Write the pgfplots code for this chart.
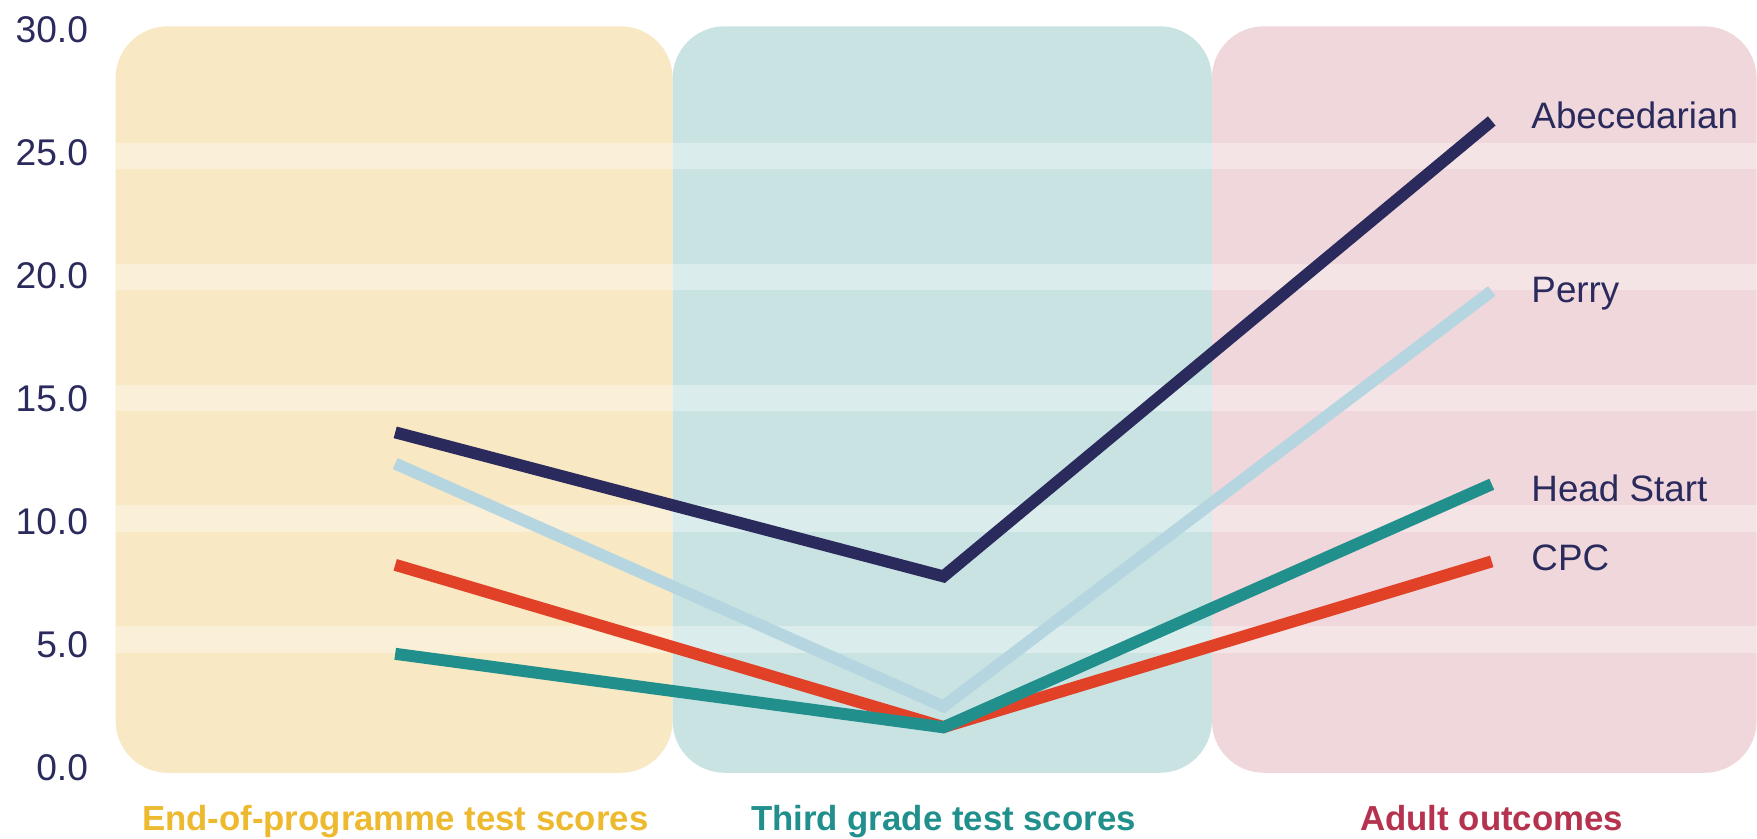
\documentclass[border=0pt]{standalone}
\usepackage{fontspec}
\setmainfont{Liberation Sans}
\usepackage{pgfplots}
\pgfplotsset{compat=1.18}
\definecolor{navy}{HTML}{2B2A5C}
\definecolor{perry}{HTML}{B5D6E0}
\definecolor{headstart}{HTML}{21908D}
\definecolor{cpc}{HTML}{E04127}
\definecolor{bgyellow}{HTML}{F8E8C4}
\definecolor{bgteal}{HTML}{C9E3E2}
\definecolor{bgpink}{HTML}{EFD7DB}
\definecolor{labgold}{HTML}{EDB92E}
\definecolor{labteal}{HTML}{21908D}
\definecolor{labred}{HTML}{B5334E}
\begin{document}
\begin{tikzpicture}
\begin{axis}[
  scale only axis, width=439.25pt, height=209.5pt,
  xmin=-0.7201, xmax=2.4831, ymin=-2.875, ymax=31.204,
  axis line style={draw=none}, major tick length=0pt,
  clip=false,
  ytick={0,5,10,15,20,25,30},
  yticklabels={0.0,5.0,10.0,15.0,20.0,25.0,30.0},
  yticklabel style={anchor=east, xshift=22.1pt, inner sep=0pt, text=navy, font=\fontsize{9.3}{11}\selectfont},
  xtick={0,1,2},
  xticklabels={{\textcolor{labgold}{End-of-programme test scores}},{\textcolor{labteal}{Third grade test scores}},{\textcolor{labred}{Adult outcomes}}},
  xticklabel style={anchor=base, yshift=2pt, inner sep=0pt, font=\bfseries\fontsize{8.7}{10}\selectfont},
]
\path (rel axis cs:0,0) rectangle (rel axis cs:1,1);
% background panels
\fill[bgyellow, rounded corners=13pt] (axis cs:-0.510,-0.22) rectangle (axis cs:0.506,30.15);
\fill[bgteal, rounded corners=13pt] (axis cs:0.506,-0.22) rectangle (axis cs:1.4895,30.15);
\fill[bgpink, rounded corners=13pt] (axis cs:1.4895,-0.22) rectangle (axis cs:2.4831,30.15);
% light bands
\fill[white, opacity=0.33] (axis cs:-0.510,24.3275) rectangle (axis cs:2.4831,25.4125);
\fill[white, opacity=0.33] (axis cs:-0.510,19.4075) rectangle (axis cs:2.4831,20.4925);
\fill[white, opacity=0.33] (axis cs:-0.510,14.4875) rectangle (axis cs:2.4831,15.5725);
\fill[white, opacity=0.33] (axis cs:-0.510,9.5875) rectangle (axis cs:2.4831,10.6725);
\fill[white, opacity=0.33] (axis cs:-0.510,4.6675) rectangle (axis cs:2.4831,5.7525);
\addplot[cpc, line width=3pt, mark=none] coordinates {(0,8.24) (1,1.64) (2,8.38)};
\addplot[headstart, line width=3pt, mark=none] coordinates {(0,4.62) (1,1.63) (2,11.52)};
\addplot[perry, line width=3pt, mark=none] coordinates {(0,12.36) (1,2.48) (2,19.38)};
\addplot[navy, line width=3pt, mark=none] coordinates {(0,13.63) (1,7.77) (2,26.30)};
\node[anchor=base west, inner sep=0pt, text=navy, font=\fontsize{9.2}{11}\selectfont] at (axis cs:2.071,25.99) {Abecedarian};
\node[anchor=base west, inner sep=0pt, text=navy, font=\fontsize{9.2}{11}\selectfont] at (axis cs:2.071,18.93) {Perry};
\node[anchor=base west, inner sep=0pt, text=navy, font=\fontsize{9.2}{11}\selectfont] at (axis cs:2.071,10.83) {Head Start};
\node[anchor=base west, inner sep=0pt, text=navy, font=\fontsize{9.2}{11}\selectfont] at (axis cs:2.071,8.00) {CPC};
\end{axis}
\end{tikzpicture}
\end{document}
